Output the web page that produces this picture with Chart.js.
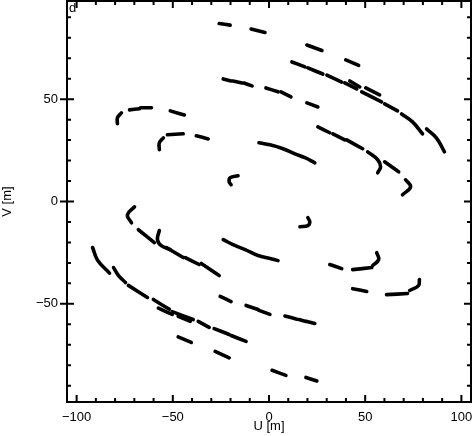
<!DOCTYPE html>
<html>
<head>
<meta charset="utf-8">
<script src="https://cdn.jsdelivr.net/npm/chart.js@4.4.1/dist/chart.umd.min.js"></script>
<style>
  html, body { margin: 0; padding: 0; background: #fff; }
  #uv { display: block; }
</style>
</head>
<body>
<canvas id="uv" width="473" height="436"></canvas>
<script>
// uv tracks in metres: each track is a list of dashes, each dash a list of [u, v]
const trackA = [
  [[-25.9, 87.0], [-20.2, 86.2]],
  [[-9.3, 84.3], [-2.1, 82.6]],
  [[19.7, 76.5], [27.5, 73.8]],
  [[39.9, 69.2], [46.6, 66.5]],
  [[-47.2, -66.2], [-40.4, -68.9]],
  [[-28.0, -73.3], [-20.7, -76.4]],
  [[1.6, -82.5], [8.8, -85.0]],
  [[19.2, -86.0], [24.9, -87.7]],
];
const trackB1 = [
  [[42.0, 58.9], [47.2, 56.0]],
  [[50.3, 55.5], [57.5, 52.1]],
  [[81.9, 35.5], [87.0, 31.1], [91.2, 24.3]],
  [[-91.7, -22.5], [-89.1, -28.7], [-82.9, -35.0]],
  [[-57.5, -52.1], [-50.3, -55.2]],
  [[-47.2, -56.1], [-40.9, -58.6]],
];
const trackB2 = [
  [[11.9, 68.2], [18.7, 65.8]],
  [[20.2, 65.3], [28.0, 62.3]],
  [[30.1, 61.8], [37.8, 58.4]],
  [[39.4, 58.0], [45.6, 55.0]],
  [[48.2, 53.6], [53.4, 51.1], [58.5, 48.7]],
  [[60.1, 47.7], [66.8, 44.3]],
  [[68.9, 42.8], [74.6, 38.9], [79.8, 33.1]],
  [[-80.8, -32.3], [-78.2, -36.2], [-74.6, -39.6]],
  [[-73.1, -41.0], [-63.2, -46.9]],
  [[-60.1, -47.9], [-51.8, -52.7]],
  [[-50.3, -53.8], [-39.4, -57.7]],
  [[-36.8, -58.6], [-31.1, -61.5]],
  [[-28.5, -62.1], [-20.7, -65.0]],
  [[-19.7, -65.5], [-11.9, -68.4]],
];
const trackC = [
  [[-23.8, 59.9], [-19.7, 58.9]],
  [[-18.7, 58.9], [-14.0, 57.9]],
  [[-13.0, 57.9], [-8.8, 56.5]],
  [[-1.6, 55.5], [4.7, 53.6]],
  [[6.2, 53.6], [11.4, 51.1]],
  [[19.7, 48.2], [25.4, 46.2]],
  [[-25.4, -46.4], [-19.7, -48.9]],
  [[-11.9, -50.8], [-5.7, -52.8]],
  [[-5.2, -53.2], [0.5, -55.2]],
  [[8.3, -56.0], [14.5, -57.5]],
  [[15.5, -57.7], [19.2, -58.6]],
  [[19.7, -58.6], [23.8, -59.6]],
];
const trackD = [
  [[-5.2, 28.7], [0.5, 27.7], [7.3, 25.8], [13.5, 23.3], [18.7, 21.4], [23.8, 18.9]],
  [[-23.8, -18.6], [-18.7, -21.1], [-12.4, -23.5], [-5.7, -26.4], [0.5, -27.9], [4.7, -28.9]],
];
const trackE = [
  [[-16.1, 12.6], [-20.2, 11.6], [-20.7, 9.7], [-19.7, 8.2]],
  [[16.1, -12.3], [20.2, -11.8], [21.2, -9.9], [20.2, -7.9]],
];
const trackF = [
  [[-54.9, 31.1], [-57.0, 28.7], [-57.0, 25.3]],
  [[-52.8, 32.6], [-44.6, 33.1]],
  [[-37.8, 32.1], [-31.6, 30.6]],
  [[31.6, -30.8], [37.8, -32.8]],
  [[43.5, -33.3], [53.4, -32.3]],
  [[53.9, -31.3], [57.0, -28.4], [56.0, -25.0]],
];
const trackG = [
  [[-76.7, 43.3], [-78.8, 40.9], [-78.8, 38.0]],
  [[-72.5, 44.8], [-67.4, 45.3]],
  [[-66.8, 45.8], [-61.1, 45.8]],
  [[-51.3, 44.3], [-44.0, 42.3]],
  [[43.5, -42.6], [50.8, -44.0]],
  [[61.1, -45.5], [72.0, -45.0]],
  [[73.1, -43.5], [77.7, -41.1], [78.2, -38.1]],
];
const trackH = [
  [[25.4, 36.5], [31.6, 33.6]],
  [[33.2, 33.1], [39.4, 30.1]],
  [[40.4, 30.1], [48.7, 25.8]],
  [[60.1, 19.4], [67.4, 14.5]],
  [[71.0, 10.6], [73.6, 7.2], [69.4, 3.3]],
  [[-69.9, -2.6], [-73.6, -6.5], [-71.5, -10.4]],
  [[-67.9, -13.8], [-59.6, -20.1]],
  [[-53.4, -22.5], [-44.6, -27.4]],
  [[-43.5, -27.4], [-36.3, -30.8]],
  [[-35.2, -30.3], [-25.9, -36.2]],
];
const trackI = [
  [[51.3, 24.3], [56.5, 20.4], [58.0, 17.0], [56.5, 14.0]],
  [[-57.0, -14.2], [-58.0, -18.6], [-56.0, -21.6], [-51.3, -23.5]],
];

const tracks = [trackA, trackB1, trackB2, trackC, trackD, trackE, trackF, trackG, trackH, trackI];

// axis ticks
const uMajor = [-100, -50, 0, 50, 100];
const uMinor = [-100, -90, -80, -70, -60, -50, -40, -30, -20, -10, 0, 10, 20, 30, 40, 50, 60, 70, 80, 90, 100];
const vMajor = [-50, 0, 50];
const vMinor = [-90, -80, -70, -60, -50, -40, -30, -20, -10, 0, 10, 20, 30, 40, 50, 60, 70, 80, 90];

const FONT = { family: "'Liberation Sans', Arial, sans-serif", size: 13 };
const fmt = v => (v < 0 ? '\u2212' + Math.abs(v) : String(v));

const datasets = [];
tracks.forEach(track => {
  track.forEach(dash => {
    datasets.push({
      data: dash.map(p => ({ x: p[0], y: p[1] })),
      borderColor: '#000',
      borderWidth: 3.6,
      borderCapStyle: 'round',
      borderJoinStyle: 'round',
      tension: 0.4,
      pointRadius: 0,
      showLine: true,
    });
  });
});

// no extra room for edge labels, the frame is fixed
const noPad = s => { s.paddingTop = 0; s.paddingBottom = 0; s.paddingLeft = 0; s.paddingRight = 0; };

// frame with inward ticks, PGPLOT style
const frameTicks = {
  id: 'frameTicks',
  afterDraw(chart) {
    const { ctx, chartArea: a, scales: { x, y } } = chart;
    ctx.save();
    ctx.strokeStyle = '#000';
    ctx.lineWidth = 2;
    ctx.strokeRect(a.left, a.top, a.right - a.left, a.bottom - a.top);
    ctx.beginPath();
    uMinor.forEach(v => {
      const p = x.getPixelForValue(v);
      const len = uMajor.includes(v) ? 7 : 4;
      ctx.moveTo(p, a.bottom); ctx.lineTo(p, a.bottom - len);
      ctx.moveTo(p, a.top); ctx.lineTo(p, a.top + len);
    });
    vMinor.forEach(v => {
      const p = y.getPixelForValue(v);
      const major = vMajor.includes(v);
      const len = major ? 7 : 4;
      ctx.moveTo(a.left - (major ? 7 : 0), p); ctx.lineTo(a.left + len, p);
      ctx.moveTo(a.right, p); ctx.lineTo(a.right - len, p);
    });
    ctx.stroke();
    ctx.fillStyle = '#000';
    ctx.font = `${FONT.size}px ${FONT.family}`;
    ctx.textBaseline = 'top';
    ctx.textAlign = 'left';
    ctx.fillText('d', a.left + 2, a.top + 1);
    ctx.restore();
  }
};

new Chart(document.getElementById('uv'), {
  type: 'scatter',
  data: { datasets },
  plugins: [frameTicks],
  options: {
    responsive: false,
    animation: false,
    layout: { padding: { top: 1, right: 2, left: 0, bottom: 0 } },
    plugins: { legend: { display: false }, tooltip: { enabled: false } },
    scales: {
      x: {
        type: 'linear', min: -105, max: 105,
        afterBuildTicks: s => { s.ticks = uMajor.map(v => ({ value: v })); },
        afterFit: s => { s.height = 34; noPad(s); },
        grid: { display: false, drawTicks: false },
        border: { display: false },
        ticks: { color: '#000', font: FONT, padding: 8, autoSkip: false, maxRotation: 0, callback: fmt },
        title: { display: true, text: 'U [m]', color: '#000', font: FONT, padding: { top: 0, bottom: 2 } },
      },
      y: {
        type: 'linear', min: -98, max: 98,
        afterBuildTicks: s => { s.ticks = vMajor.map(v => ({ value: v })); },
        afterFit: s => { s.width = 67; noPad(s); },
        grid: { display: false, drawTicks: false },
        border: { display: false },
        ticks: { color: '#000', font: FONT, padding: 9, autoSkip: false, callback: fmt },
        title: { display: true, text: 'V [m]', color: '#000', font: FONT, padding: { top: 0, bottom: 0 } },
      },
    },
  },
});
</script>
</body>
</html>
